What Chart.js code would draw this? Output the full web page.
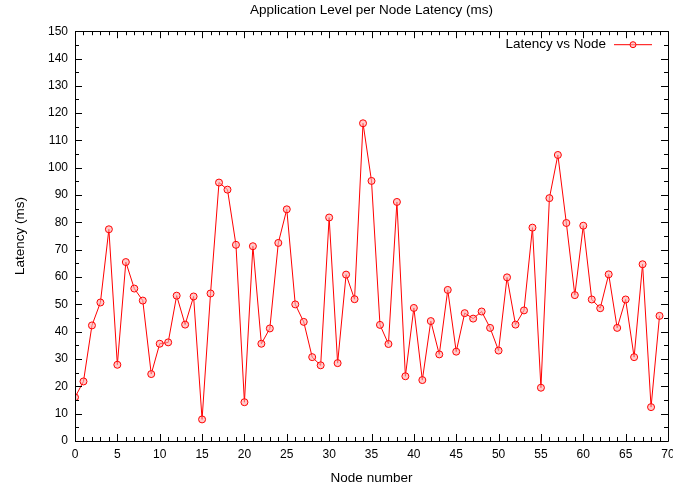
<!DOCTYPE html>
<html lang="en">
<head>
  <meta charset="UTF-8">
  <title>Application Level per Node Latency</title>
  <script src="https://cdn.jsdelivr.net/npm/chart.js@4"></script>
  <style>
    html, body { margin: 0; padding: 0; background: #fff; }
    #wrap { width: 673px; height: 486px; position: relative; }
  </style>
</head>
<body>
  <div id="wrap"><canvas id="chart" width="673" height="486"></canvas></div>

  <script>
    // Node ids on the x axis
    var nodeNumbers = [
      0, 1, 2, 3, 4, 5, 6, 7, 8, 9,
      10, 11, 12, 13, 14, 15, 16, 17, 18, 19,
      20, 21, 22, 23, 24, 25, 26, 27, 28, 29,
      30, 31, 32, 33, 34, 35, 36, 37, 38, 39,
      40, 41, 42, 43, 44, 45, 46, 47, 48, 49,
      50, 51, 52, 53, 54, 55, 56, 57, 58, 59,
      60, 61, 62, 63, 64, 65, 66, 67, 68, 69
    ];

    // Measured latency per node (ms)
    var latencyMs = [
      16, 21.8, 42.3, 50.7, 77.5, 27.9, 65.5, 55.8, 51.4, 24.5,
      35.6, 36.1, 53.2, 42.6, 52.9, 7.9, 54, 94.6, 92, 71.8,
      14.2, 71.3, 35.6, 41.2, 72.5, 84.8, 50, 43.6, 30.7, 27.7,
      81.8, 28.5, 60.9, 51.9, 116.3, 95.2, 42.5, 35.5, 87.5, 23.7,
      48.7, 22.3, 43.9, 31.7, 55.3, 32.7, 46.8, 44.8, 47.4, 41.4,
      33.1, 59.9, 42.6, 47.8, 78.1, 19.5, 88.9, 104.7, 79.8, 53.4,
      78.8, 51.8, 48.6, 61, 41.4, 51.8, 30.7, 64.7, 12.4, 45.8
    ];

    var seriesLabel = "Latency vs Node";
    var xMin = 0, xMax = 70, xStep = 5, xMinorStep = 1;
    var yMin = 0, yMax = 150, yStep = 10, yMinorStep = 5;

    var FONT = "'Liberation Sans', Arial, sans-serif";
    var LABEL_SIZE = 13.5;
    var RED = "#ff0000";
    var POINT_FILL = "rgba(255,170,170,0.6)";

    var points = [];
    for (var i = 0; i < nodeNumbers.length; i++) {
      points.push({ x: nodeNumbers[i], y: latencyMs[i] });
    }

    /* Frame, inward ticks on all four sides and the key */
    var framePlugin = {
      id: "frame",
      afterDatasetsDraw: function(chart) {
        var ctx = chart.ctx;
        var a = chart.chartArea;
        var xs = chart.scales.x, ys = chart.scales.y;
        ctx.save();
        ctx.strokeStyle = "#000";
        ctx.lineWidth = 1;
        ctx.beginPath();
        ctx.rect(Math.round(a.left) + 0.5, Math.round(a.top) + 0.5,
                 Math.round(a.right - a.left), Math.round(a.bottom - a.top));
        ctx.stroke();

        ctx.beginPath();
        for (var v = xMin; v <= xMax; v += xMinorStep) {
          var px = Math.round(xs.getPixelForValue(v)) + 0.5;
          var len = (v % xStep === 0) ? 7 : 4;
          ctx.moveTo(px, a.bottom); ctx.lineTo(px, a.bottom - len);
          ctx.moveTo(px, a.top); ctx.lineTo(px, a.top + len);
        }
        for (var w = yMin; w <= yMax; w += yMinorStep) {
          var py = Math.round(ys.getPixelForValue(w)) + 0.5;
          var ln = (w % yStep === 0) ? 7 : 4;
          ctx.moveTo(a.left, py); ctx.lineTo(a.left + ln, py);
          ctx.moveTo(a.right, py); ctx.lineTo(a.right - ln, py);
        }
        ctx.stroke();

        // key in the top right corner
        var ky = a.top + 13;
        var lineEnd = a.right - 16;
        var lineStart = lineEnd - 38;
        ctx.font = LABEL_SIZE + "px " + FONT;
        ctx.fillStyle = "#000";
        ctx.textAlign = "right";
        ctx.textBaseline = "middle";
        ctx.fillText(seriesLabel, lineStart - 8, ky);
        ctx.strokeStyle = RED;
        ctx.beginPath();
        ctx.moveTo(lineStart, ky + 0.5); ctx.lineTo(lineEnd, ky + 0.5);
        ctx.stroke();
        ctx.beginPath();
        ctx.arc((lineStart + lineEnd) / 2, ky + 0.5, 3, 0, Math.PI * 2);
        ctx.fillStyle = POINT_FILL;
        ctx.fill();
        ctx.stroke();
        ctx.restore();
      }
    };

    new Chart(document.getElementById("chart"), {
      type: "line",
      data: {
        datasets: [{
          label: seriesLabel,
          data: points,
          borderColor: RED,
          borderWidth: 1,
          backgroundColor: POINT_FILL,
          pointRadius: 3.5,
          pointBorderColor: RED,
          pointBorderWidth: 1,
          pointBackgroundColor: POINT_FILL,
          tension: 0
        }]
      },
      options: {
        responsive: false,
        animation: false,
        layout: { padding: { right: 3, top: 0 } },
        plugins: {
          legend: { display: false },
          tooltip: { enabled: false },
          title: {
            display: true,
            fullSize: false,  // centre over the plot, not the canvas
            text: "Application Level per Node Latency (ms)",
            color: "#000",
            font: { family: FONT, size: LABEL_SIZE, weight: "normal" },
            padding: { top: 2, bottom: 13 }
          }
        },
        scales: {
          x: {
            type: "linear",
            min: xMin,
            max: xMax,
            grid: { display: false, drawTicks: false },
            border: { display: false },
            ticks: {
              stepSize: xStep,
              color: "#000",
              padding: 6,
              maxRotation: 0,
              font: { family: FONT, size: 12 }
            },
            title: {
              display: true,
              text: "Node number",
              color: "#000",
              font: { family: FONT, size: LABEL_SIZE },
              padding: { top: 1, bottom: 0 }
            },
            afterFit: function(scale) {
              scale.height = 45;
              scale.paddingRight = 0;
              scale.paddingLeft = 0;
            }
          },
          y: {
            min: yMin,
            max: yMax,
            grid: { display: false, drawTicks: false },
            border: { display: false },
            ticks: {
              stepSize: yStep,
              color: "#000",
              padding: 7,
              font: { family: FONT, size: 12 }
            },
            title: {
              display: true,
              text: "Latency (ms)",
              color: "#000",
              font: { family: FONT, size: LABEL_SIZE },
              padding: { top: 12, bottom: 0 }
            },
            afterFit: function(scale) {
              scale.width = 75;
              scale.paddingTop = 0;
              scale.paddingBottom = 0;
            }
          }
        }
      },
      plugins: [framePlugin]
    });
  </script>
</body>
</html>
